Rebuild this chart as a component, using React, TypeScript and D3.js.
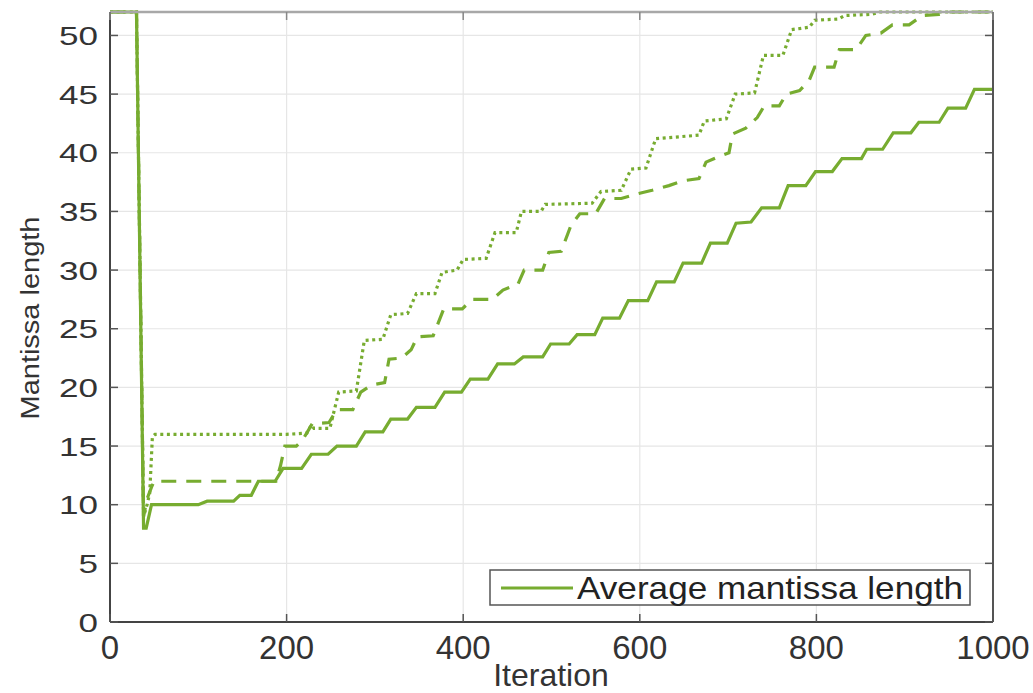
import React, { useRef, useEffect } from 'react';
import * as d3 from 'd3';

const W = 1033;
const H = 693;
const green = '#77ac30';

// [iteration, mantissa length]
const averageLength = [
  [0, 52], [30, 52], [38, 8], [41, 8], [47, 10], [100, 10], [110, 10.3], [140, 10.3],
  [147, 10.8], [160, 10.8], [168, 12], [187, 12], [196, 13.1], [217, 13.1], [228, 14.3],
  [247, 14.3], [257, 15.0], [279, 15.0], [289, 16.2], [309, 16.2], [318, 17.3], [337, 17.3],
  [347, 18.3], [368, 18.3], [379, 19.6], [398, 19.6], [408, 20.7], [428, 20.7], [439, 22.0],
  [458, 22.0], [468, 22.6], [490, 22.6], [499, 23.7], [520, 23.7], [529, 24.5], [549, 24.5],
  [558, 25.9], [577, 25.9], [587, 27.4], [609, 27.4], [619, 29.0], [639, 29.0], [649, 30.6],
  [670, 30.6], [680, 32.3], [699, 32.3], [709, 34.0], [726, 34.1], [738, 35.3], [758, 35.3],
  [768, 37.2], [788, 37.2], [799, 38.4], [818, 38.4], [829, 39.5], [851, 39.5], [857, 40.3],
  [875, 40.3], [887, 41.7], [907, 41.7], [916, 42.6], [939, 42.6], [949, 43.8], [969, 43.8],
  [979, 45.4], [1000, 45.4],
];

const dashedLength = [
  [0, 52], [30, 52], [38, 9], [42, 10.5], [47, 11.5], [50, 12], [188, 12], [193, 13.3],
  [198, 15.0], [211, 15.0], [218, 15.5], [229, 16.9], [248, 17.0], [257, 18.1], [275, 18.1],
  [284, 19.6], [296, 20.2], [311, 20.4], [316, 22.4], [330, 22.5], [341, 23.2], [348, 24.3],
  [366, 24.4], [378, 26.7], [399, 26.7], [410, 27.5], [433, 27.5], [445, 28.3], [462, 28.8],
  [469, 30.0], [490, 30.0], [497, 31.5], [511, 31.6], [522, 33.8], [532, 34.8], [550, 34.8],
  [560, 36.1], [579, 36.1], [597, 36.5], [614, 36.8], [633, 37.2], [648, 37.6], [667, 37.8],
  [675, 39.2], [687, 39.6], [701, 40.0], [705, 41.6], [720, 42.1], [733, 43.0], [741, 44.0],
  [758, 44.0], [766, 45.0], [781, 45.3], [792, 46.2], [798, 47.3], [820, 47.3], [826, 48.8],
  [845, 48.8], [856, 50.0], [873, 50.2], [886, 50.9], [905, 50.9], [920, 51.7], [939, 51.8],
  [950, 52], [1000, 52],
];

const dottedLength = [
  [0, 52], [30, 52], [38, 9], [42, 10], [45, 11], [48, 15.8], [51, 16], [200, 16],
  [223, 16.1], [228, 16.8], [231, 16.5], [249, 16.5], [259, 19.6], [279, 19.7], [288, 24.0],
  [309, 24.1], [318, 26.2], [337, 26.3], [347, 28.0], [368, 28.0], [376, 29.8], [393, 30.0],
  [400, 30.9], [426, 31.0], [436, 33.2], [460, 33.2], [466, 35.0], [488, 35.0], [493, 35.6],
  [546, 35.7], [556, 36.7], [579, 36.8], [590, 38.6], [607, 38.7], [618, 41.2], [667, 41.5],
  [673, 42.7], [698, 42.9], [708, 45.0], [730, 45.1], [740, 48.3], [762, 48.3], [772, 50.5],
  [792, 50.7], [798, 51.3], [825, 51.4], [832, 51.7], [862, 51.8], [872, 52], [1000, 52],
];

const xTicks = [0, 200, 400, 600, 800, 1000];
const yTicks = [0, 5, 10, 15, 20, 25, 30, 35, 40, 45, 50];
const xLabel = 'Iteration';
const yLabel = 'Mantissa length';
const legendLabel = 'Average mantissa length';

const App = () => {
  const svgRef = useRef(null);

  useEffect(() => {
    if (!svgRef.current) return;
    const svg = d3.select(svgRef.current);
    svg.selectAll('*').remove();

    const left = 110, right = 993, top = 12, bottom = 622;
    const x = d3.scaleLinear().domain([0, 1000]).range([left, right]);
    const y = d3.scaleLinear().domain([0, 52]).range([bottom, top]);
    const font = '"Liberation Sans", Arial, Helvetica, sans-serif';

    // --- grid ---
    svg.selectAll('.gx').data(xTicks.slice(1, -1)).enter().append('line')
      .attr('x1', d => x(d)).attr('x2', d => x(d))
      .attr('y1', top).attr('y2', bottom)
      .attr('stroke', '#e6e6e6').attr('stroke-width', 1.2);
    svg.selectAll('.gy').data(yTicks.slice(1)).enter().append('line')
      .attr('x1', left).attr('x2', right)
      .attr('y1', d => y(d)).attr('y2', d => y(d))
      .attr('stroke', '#e6e6e6').attr('stroke-width', 1.2);

    // --- series ---
    const line = d3.line().x(d => x(d[0])).y(d => y(d[1]));
    const series = [
      { data: dashedLength, dash: '15,10' },
      { data: dottedLength, dash: '3,3.6' },
      { data: averageLength, dash: null },
    ];
    series.forEach(s => {
      svg.append('path')
        .datum(s.data)
        .attr('fill', 'none')
        .attr('stroke', green)
        .attr('stroke-width', 3.2)
        .attr('stroke-dasharray', s.dash)
        .attr('d', line);
    });

    // --- axes box ---
    svg.append('line').attr('x1', left).attr('x2', right).attr('y1', top).attr('y2', top)
      .attr('stroke', '#a8a8a8').attr('stroke-width', 2.5);
    svg.append('line').attr('x1', right).attr('x2', right).attr('y1', top).attr('y2', bottom)
      .attr('stroke', '#555').attr('stroke-width', 2);
    svg.append('line').attr('x1', left).attr('x2', left).attr('y1', top).attr('y2', bottom)
      .attr('stroke', '#444').attr('stroke-width', 2);
    svg.append('line').attr('x1', left).attr('x2', right).attr('y1', bottom).attr('y2', bottom)
      .attr('stroke', '#444').attr('stroke-width', 2);

    // ticks (inward, on all sides)
    const tl = 8;
    xTicks.forEach(t => {
      svg.append('line').attr('x1', x(t)).attr('x2', x(t)).attr('y1', bottom).attr('y2', bottom - tl)
        .attr('stroke', '#555').attr('stroke-width', 1.5);
      svg.append('line').attr('x1', x(t)).attr('x2', x(t)).attr('y1', top).attr('y2', top + tl)
        .attr('stroke', '#888').attr('stroke-width', 1.5);
    });
    yTicks.forEach(t => {
      svg.append('line').attr('x1', left).attr('x2', left + tl).attr('y1', y(t)).attr('y2', y(t))
        .attr('stroke', '#555').attr('stroke-width', 1.5);
      svg.append('line').attr('x1', right).attr('x2', right - tl).attr('y1', y(t)).attr('y2', y(t))
        .attr('stroke', '#555').attr('stroke-width', 1.5);
    });

    // tick labels
    svg.selectAll('.yl').data(yTicks).enter().append('text')
      .attr('x', left - 12)
      .attr('y', d => y(d) + 9.5)
      .attr('text-anchor', 'end')
      .attr('font-family', font)
      .attr('font-size', 26)
      .attr('fill', '#333')
      .attr('textLength', d => String(d).length * 19.5)
      .attr('lengthAdjust', 'spacingAndGlyphs')
      .text(d => d);

    svg.selectAll('.xl').data(xTicks).enter().append('text')
      .attr('x', d => x(d))
      .attr('y', 659)
      .attr('text-anchor', 'middle')
      .attr('font-family', font)
      .attr('font-size', 33)
      .attr('fill', '#333')
      .text(d => d);

    // axis titles
    svg.append('text')
      .attr('x', 551).attr('y', 686)
      .attr('text-anchor', 'middle')
      .attr('font-family', font)
      .attr('font-size', 32)
      .attr('fill', '#333')
      .text(xLabel);

    svg.append('text')
      .attr('transform', `translate(38.5, 318) rotate(-90)`)
      .attr('text-anchor', 'middle')
      .attr('font-family', font)
      .attr('font-size', 25)
      .attr('fill', '#333')
      .attr('textLength', 203)
      .attr('lengthAdjust', 'spacingAndGlyphs')
      .text(yLabel);

    // --- legend ---
    const lg = svg.append('g');
    lg.append('rect')
      .attr('x', 490).attr('y', 570).attr('width', 480).attr('height', 35)
      .attr('fill', '#fff').attr('stroke', '#555').attr('stroke-width', 1.5);
    lg.append('line')
      .attr('x1', 501).attr('x2', 573).attr('y1', 588).attr('y2', 588)
      .attr('stroke', green).attr('stroke-width', 3.2);
    lg.append('text')
      .attr('x', 577).attr('y', 599)
      .attr('font-family', font)
      .attr('font-size', 32)
      .attr('fill', '#222')
      .attr('textLength', 386)
      .attr('lengthAdjust', 'spacingAndGlyphs')
      .text(legendLabel);
  }, []);

  return (
    <div style={{ position: 'absolute', left: 0, top: 0, width: W, height: H, background: '#fff' }}>
      <svg ref={svgRef} width={W} height={H} style={{ display: 'block' }} />
    </div>
  );
};

export default App;
